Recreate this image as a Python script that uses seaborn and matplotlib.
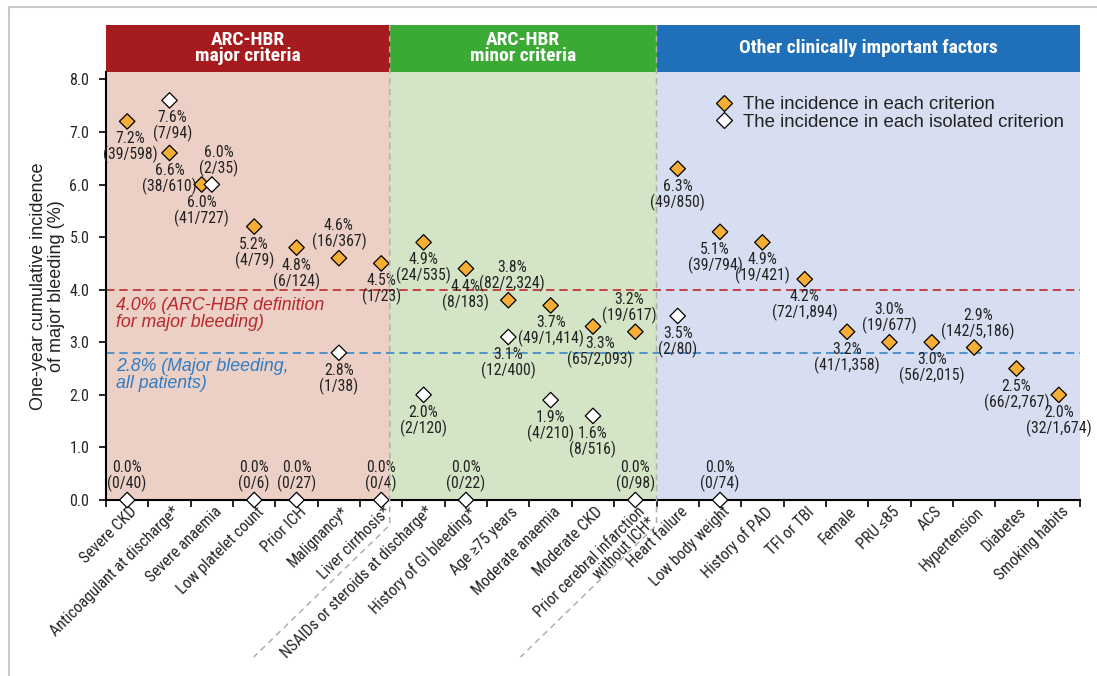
import numpy as np
import pandas as pd
import matplotlib
matplotlib.use("Agg")
import matplotlib.pyplot as plt
import matplotlib.transforms as mtransforms
from matplotlib import font_manager as fm
from matplotlib.lines import Line2D
from matplotlib.patches import Rectangle
import seaborn as sns

# ---------------------------------------------------------------- data
categories = [
    "Severe CKD", "Anticoagulant at discharge*", "Severe anaemia",
    "Low platelet count", "Prior ICH", "Malignancy*", "Liver cirrhosis*",
    "NSAIDs or steroids at discharge*", "History of GI bleeding*",
    "Age ≥75 years", "Moderate anaemia", "Moderate CKD",
    "Prior cerebral infarction\nwithout ICH*",
    "Heart failure", "Low body weight", "History of PAD", "TFI or TBI",
    "Female", "PRU ≤85", "ACS", "Hypertension", "Diabetes", "Smoking habits",
]
group_sizes = [7, 6, 10]
group_titles = ["ARC-HBR\nmajor criteria", "ARC-HBR\nminor criteria",
                "Other clinically important factors"]

crit_pct = [7.2, 6.6, 6.0, 5.2, 4.8, 4.6, 4.5,
            4.9, 4.4, 3.8, 3.7, 3.3, 3.2,
            6.3, 5.1, 4.9, 4.2, 3.2, 3.0, 3.0, 2.9, 2.5, 2.0]
crit_events = [39, 38, 41, 4, 6, 16, 1,
               24, 8, 82, 49, 65, 19,
               49, 39, 19, 72, 41, 19, 56, 142, 66, 32]
crit_total = [598, 610, 727, 79, 124, 367, 23,
              535, 183, 2324, 1414, 2093, 617,
              850, 794, 421, 1894, 1358, 677, 2015, 5186, 2767, 1674]

iso_pct = [0.0, 7.6, 6.0, 0.0, 0.0, 2.8, 0.0,
           2.0, 0.0, 3.1, 1.9, 1.6, 0.0,
           3.5, 0.0] + [np.nan] * 8
iso_events = [0, 7, 2, 0, 0, 1, 0,
              2, 0, 12, 4, 8, 0,
              2, 0] + [None] * 8
iso_total = [40, 94, 35, 6, 27, 38, 4,
             120, 22, 400, 210, 516, 98,
             80, 74] + [None] * 8

ref_arc_hbr = 4.0
ref_all_patients = 2.8

series_names = ["The incidence in each criterion",
                "The incidence in each isolated criterion"]

# label placement (side of the marker, horizontal nudge in px)
crit_label_above = {"Malignancy*", "Age ≥75 years",
                    "Prior cerebral infarction\nwithout ICH*",
                    "PRU ≤85", "Hypertension"}
crit_label_dx = {"Severe CKD": 3, "Age ≥75 years": 4, "Moderate CKD": 7,
                 "Prior cerebral infarction\nwithout ICH*": -6,
                 "Low body weight": -5, "Hypertension": 4}
iso_label_dx = {"Severe anaemia": 7, "Anticoagulant at discharge*": 3}


# ---------------------------------------------------------------- fonts
def pick_narrow_font():
    """Return (family, stretch) of a narrow sans face, if one is installed."""
    entries = fm.fontManager.ttflist
    names = {f.name for f in entries}
    for cand in ["Liberation Sans Narrow", "Arial Narrow", "Roboto Condensed",
                 "Open Sans Condensed", "Noto Sans Condensed",
                 "DejaVu Sans Condensed", "Noto Sans Display"]:
        if cand in names:
            return cand, "normal", True
    rank = {"extra-condensed": 0, "condensed": 1, "semi-condensed": 2}
    best = None
    for f in entries:
        st = f.stretch if isinstance(f.stretch, str) else "normal"
        if st in rank and "CJK" not in f.name and "Mono" not in f.name \
                and "Serif" not in f.name:
            key = (rank[st], f.name)
            if best is None or key < best[0]:
                best = (key, f.name, st)
    if best is not None:
        return best[1], best[2], True
    return "Roboto", "normal", False


NARROW_NAME, NARROW_STRETCH, HAVE_NARROW = pick_narrow_font()
NARROW = [NARROW_NAME, "DejaVu Sans"]
REGULAR = ["Liberation Sans", "DejaVu Sans"]
fs_small = 11.3 if HAVE_NARROW else 9.2

# ---------------------------------------------------------------- style
sns.set_theme(style="ticks")
plt.rcParams["font.family"] = NARROW
plt.rcParams["font.stretch"] = NARROW_STRETCH
plt.rcParams["text.color"] = "#222222"

orange = "#F6AE35"
red_line = "#C0282C"
blue_line = "#3A86C8"
bg_colors = ["#ECD0C6", "#D3E5C6", "#D8DEF1"]
head_colors = ["#A61B1D", "#3BAA35", "#1F70B8"]

W, H = 1097, 676
fig = plt.figure(figsize=(W / 100, H / 100), dpi=100)
ax_l, ax_r, ax_t, ax_b = 106, 1080, 72, 500
ax = fig.add_axes([ax_l / W, 1 - ax_b / H, (ax_r - ax_l) / W, (ax_b - ax_t) / H])

n = len(categories)
x = np.arange(n, dtype=float)
ax.set_xlim(-0.5, n - 0.5)
ax.set_ylim(0, 8.14)

# dodge the two diamonds where they would sit on top of each other
crit_x = np.where(np.isclose(crit_pct, np.nan_to_num(iso_pct, nan=-9)), x - 0.24, x)

df = pd.concat([
    pd.DataFrame({"x": crit_x, "pct": crit_pct, "series": series_names[0],
                  "cat": categories}),
    pd.DataFrame({"x": x, "pct": iso_pct, "series": series_names[1],
                  "cat": categories}).dropna(subset=["pct"]),
], ignore_index=True)

# section backgrounds and headers
dividers = [6.2, 12.5]
edges = [-0.5] + dividers + [n - 0.5]
for i in range(3):
    ax.axvspan(edges[i], edges[i + 1], color=bg_colors[i], lw=0, zorder=0)
    hdr = Rectangle((edges[i], 1.0), edges[i + 1] - edges[i], 47 / 428,
                    transform=ax.get_xaxis_transform(), color=head_colors[i],
                    lw=0, clip_on=False, zorder=2)
    ax.add_patch(hdr)
    ax.text((edges[i] + edges[i + 1]) / 2, 1.0 + 24 / 428, group_titles[i],
            transform=ax.get_xaxis_transform(), ha="center", va="center",
            color="white", fontsize=14 if HAVE_NARROW else 11,
            fontweight="bold", linespacing=0.92, zorder=3)

# reference lines
dash = (0, (5, 3))
ax.axhline(ref_arc_hbr, color=red_line, lw=1.2, ls=dash, zorder=1.5)
ax.axhline(ref_all_patients, color=blue_line, lw=1.2, ls=dash, zorder=1.5)
ax.annotate(f"{ref_arc_hbr:.1f}% (ARC-HBR definition\nfor major bleeding)",
            xy=(0.0103, ref_arc_hbr), xycoords=ax.get_yaxis_transform(),
            xytext=(0, -5), textcoords="offset points", ha="left", va="top",
            color="#B9272C", fontsize=12.8, style="italic", family=REGULAR,
            stretch="normal", linespacing=1.0)
ax.annotate(f"{ref_all_patients:.1f}% (Major bleeding,\nall patients)",
            xy=(0.0103, ref_all_patients), xycoords=ax.get_yaxis_transform(),
            xytext=(0, -4), textcoords="offset points", ha="left", va="top",
            color="#2F7CC4", fontsize=12.8, style="italic", family=REGULAR,
            stretch="normal", linespacing=1.0)

# the diamonds
sns.scatterplot(data=df, x="x", y="pct", hue="series", ax=ax, marker="D",
                palette={series_names[0]: orange, series_names[1]: "white"},
                edgecolor="black", linewidth=0.9, s=62, legend=False,
                clip_on=False, zorder=4)

# value labels
PX = 0.72
def value_label(xv, yv, pct, ev, tot, above, dx):
    txt = f"{pct:.1f}%\n({ev:,}/{tot:,})"
    if above:
        off, va = 8 * PX, "bottom"
    else:
        off, va = -10 * PX, "top"
    ax.annotate(txt, xy=(xv, yv), xytext=(dx * PX, off),
                textcoords="offset points", ha="center", va=va,
                fontsize=fs_small, linespacing=0.98, color="#222222",
                annotation_clip=False, zorder=5)

for i, cat in enumerate(categories):
    value_label(crit_x[i], crit_pct[i], crit_pct[i], crit_events[i],
                crit_total[i], cat in crit_label_above, crit_label_dx.get(cat, 0))
    if not np.isnan(iso_pct[i]):
        above = iso_pct[i] == 0 or iso_pct[i] == crit_pct[i]
        value_label(x[i], iso_pct[i], iso_pct[i], iso_events[i], iso_total[i],
                    above, iso_label_dx.get(cat, 0))

# axes, ticks
for side in ["top", "right"]:
    ax.spines[side].set_visible(False)
for side in ["left", "bottom"]:
    ax.spines[side].set_color("black")
    ax.spines[side].set_linewidth(1.5)
ax.set_facecolor("none")

ax.set_xticks(np.arange(-0.5, n, 1.0))
ax.set_xticklabels([])
ax.tick_params(axis="x", which="major", length=5, width=1.2, color="black")
ax.set_xticks(x, categories, minor=True)
ax.tick_params(axis="x", which="minor", length=0, pad=3,
               labelsize=11.5 if HAVE_NARROW else 9.5)
shift = mtransforms.ScaledTranslation(2 / 100, 0, fig.dpi_scale_trans)
for lab in ax.get_xticklabels(minor=True):
    lab.set_rotation(45)
    lab.set_ha("right")
    lab.set_va("top")
    lab.set_rotation_mode("anchor")
    lab.set_multialignment("right")
    lab.set_linespacing(0.95)
    lab.set_transform(lab.get_transform() + shift)

ax.set_yticks(np.arange(0, 8.01, 1.0))
ax.set_yticklabels([f"{v:.1f}" for v in np.arange(0, 8.01, 1.0)])
ax.tick_params(axis="y", length=5, width=1.2, color="black",
               labelsize=11.5 if HAVE_NARROW else 10, pad=7)
ax.set_xlabel("")
ax.set_ylabel("One-year cumulative incidence\nof major bleeding (%)",
              family=REGULAR, stretch="normal", fontsize=13, linespacing=1.1,
              labelpad=3, color="#222222")

# legend
handles = [Line2D([], [], ls="none", marker="D", markersize=8.5,
                  markerfacecolor=c, markeredgecolor="black", markeredgewidth=0.9)
           for c in (orange, "white")]
ax.legend(handles, series_names, loc="upper left", bbox_to_anchor=(0.615, 0.965),
          frameon=False, prop={"family": REGULAR, "size": 13.4, "stretch": "normal"},
          handlelength=1.0, handletextpad=0.55, labelspacing=0.02, borderpad=0)

# dashed separators running through the header and down between tick labels
fig.canvas.draw()
for d in dividers:
    xd = ax.transData.transform((d, 0))[0]
    top = H - 25
    knee = H - 525
    xs = [xd, xd, xd - 136]
    ys = [top, knee, knee - 132]
    fig.add_artist(Line2D(xs, ys, transform=mtransforms.IdentityTransform(),
                          color="#AFAFAF", lw=1.1, ls=(0, (4, 3)), zorder=6))

# thin frame at the top and left of the panel
fig.add_artist(Line2D([9, 9, W], [0, H - 7, H - 7],
                      transform=mtransforms.IdentityTransform(),
                      color="#C9C9C9", lw=1.5))

fig.savefig("out.png", dpi=100)
